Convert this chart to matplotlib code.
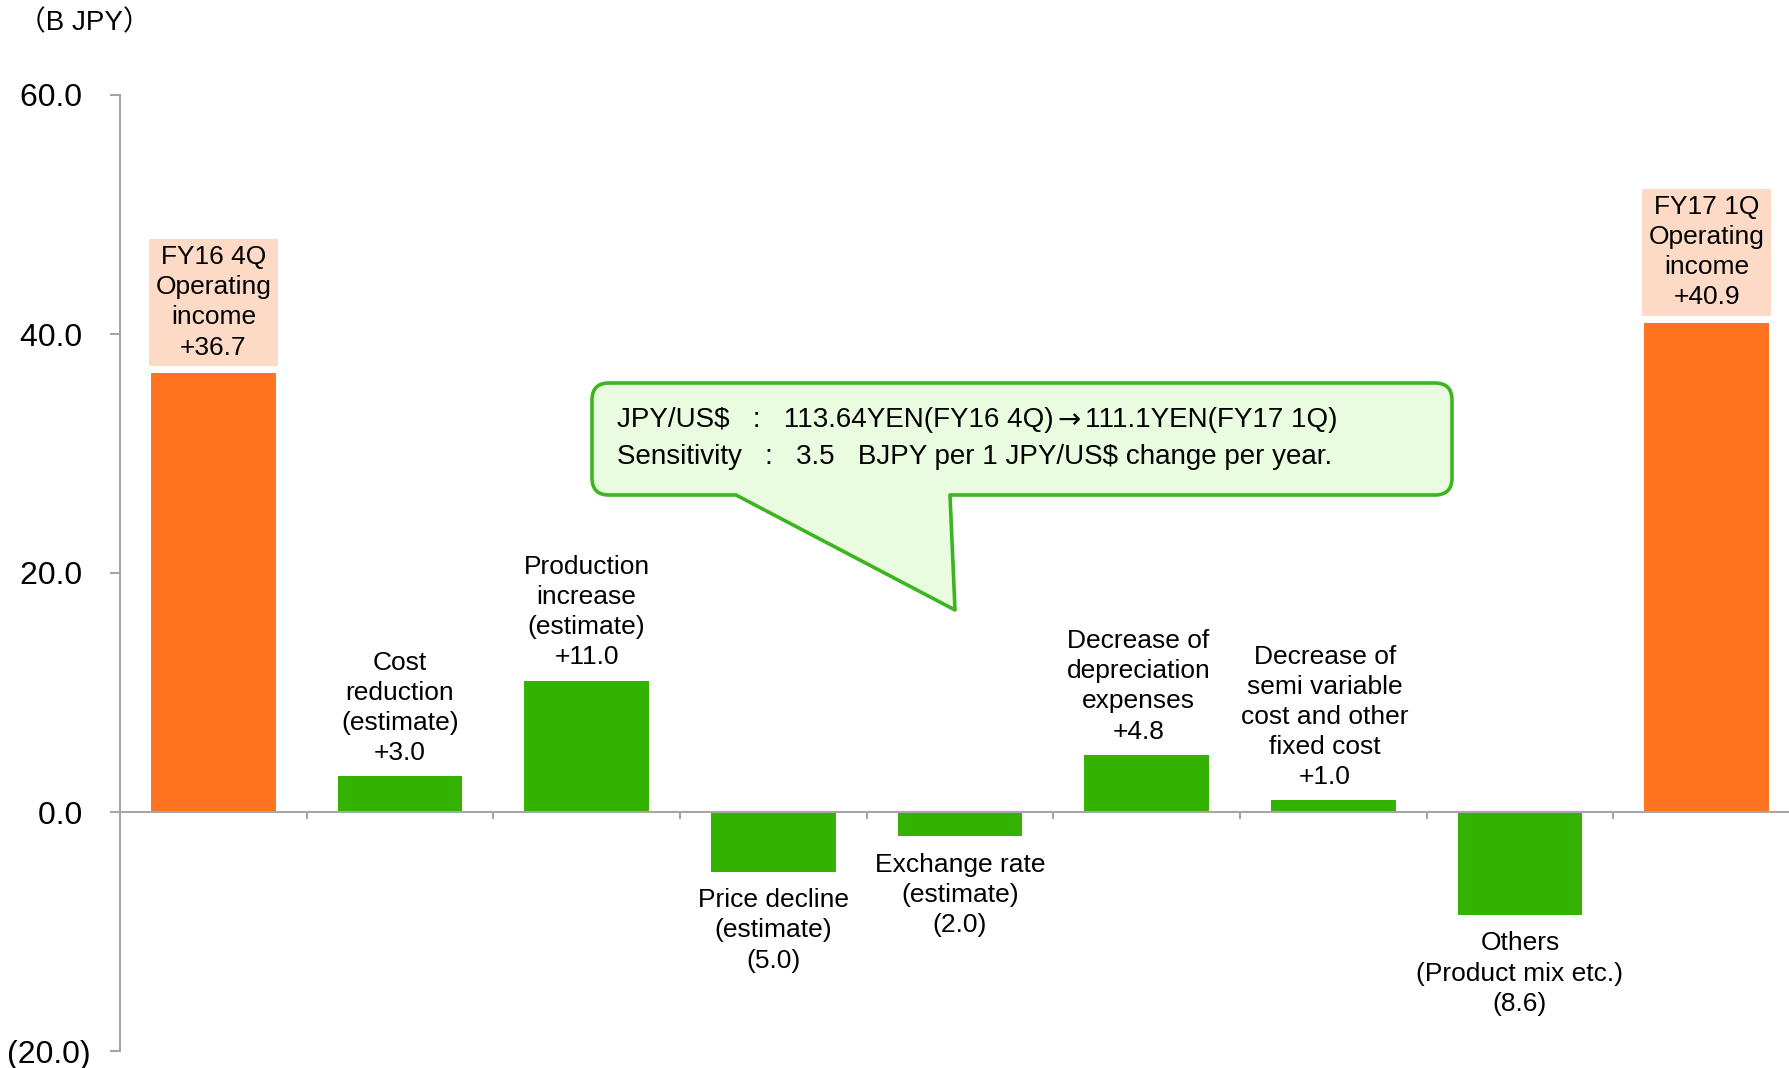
import matplotlib.pyplot as plt
from matplotlib.path import Path
from matplotlib.patches import PathPatch
from matplotlib.ticker import FuncFormatter

plt.rcParams['font.family'] = ['Liberation Sans', 'Noto Sans CJK JP', 'DejaVu Sans']

# Operating income bridge, FY16 4Q -> FY17 1Q (B JPY)
labels = [
    "FY16 4Q\nOperating\nincome",
    "Cost\nreduction\n(estimate)",
    "Production\nincrease\n(estimate)",
    "Price decline\n(estimate)",
    "Exchange rate\n(estimate)",
    "Decrease of\ndepreciation\nexpenses",
    "Decrease of\nsemi variable\ncost and other\nfixed cost",
    "Others\n(Product mix etc.)",
    "FY17 1Q\nOperating\nincome",
]
values = [36.7, 3.0, 11.0, -5.0, -2.0, 4.8, 1.0, -8.6, 40.9]
is_total = [True, False, False, False, False, False, False, False, True]
yticks = [-20, 0, 20, 40, 60]

ORANGE = '#FF7321'
GREEN = '#33B200'
PEACH = '#FDDAC6'
AXIS_GRAY = '#A6A6A6'
FS = 19
LS = 1.32
# small horizontal nudges (points) for a couple of the wider labels
label_dx = [0, 0, 0, 0, 0, -6, -6, 0, 0]

W, H = 1789, 1068
fig = plt.figure(figsize=(W / 100, H / 100), dpi=100)
ax = fig.add_axes([120 / W, 1 - 1051 / H, 1680 / W, (1051 - 95) / H])

x = list(range(len(values)))
colors = [ORANGE if t else GREEN for t in is_total]
ax.bar(x, values, width=0.667, color=colors, zorder=2)

ax.set_xlim(-0.5, len(values) - 0.5)
ax.set_ylim(-20, 60)

# value labels
for xi, v, lab, tot, dx in zip(x, values, labels, is_total, label_dx):
    num = f"+{v:.1f}" if v >= 0 else f"({abs(v):.1f})"
    text = f"{lab}\n{num}"
    if tot:
        ax.annotate(text, (xi, v), xytext=(dx, 10), textcoords='offset points',
                    ha='center', va='bottom', fontsize=FS, linespacing=LS,
                    bbox=dict(boxstyle='square,pad=0.25', fc=PEACH, ec='none'))
    elif v >= 0:
        ax.annotate(text, (xi, v), xytext=(dx, 8), textcoords='offset points',
                    ha='center', va='bottom', fontsize=FS, linespacing=LS)
    else:
        ax.annotate(text, (xi, v), xytext=(dx, -12), textcoords='offset points',
                    ha='center', va='top', fontsize=FS, linespacing=LS)

# axes styling
for side in ['top', 'right']:
    ax.spines[side].set_visible(False)
ax.spines['bottom'].set_position(('data', 0))
for side in ['left', 'bottom']:
    ax.spines[side].set_color(AXIS_GRAY)
    ax.spines[side].set_linewidth(1.5)
ax.set_yticks(yticks)
ax.yaxis.set_major_formatter(FuncFormatter(
    lambda v, p: f"{v:.1f} " if v >= 0 else f"({abs(v):.1f})"))
ax.tick_params(axis='y', length=7, width=1.5, color=AXIS_GRAY, pad=14, labelsize=23)
ax.set_xticks([i + 0.5 for i in range(len(values) - 1)])
ax.set_xticklabels([])
ax.tick_params(axis='x', direction='out', length=5, width=1.5, color=AXIS_GRAY)

fig.text(18 / W, 1 - 23 / H, "（B JPY）", fontsize=20, va='center', ha='left')


# speech-bubble callout with the exchange-rate note
def fp(px, py):
    return (px / W, 1 - py / H)


L, R, T, B, r = 592, 1452, 383, 495, 17
x1, x2, tip = 736, 950, (955, 610)
pts = [
    (L + r, T), (R - r, T), (R, T), (R, T + r), (R, B - r), (R, B), (R - r, B),
    (x2, B), tip, (x1, B), (L + r, B), (L, B), (L, B - r), (L, T + r), (L, T),
    (L + r, T),
]
codes = [Path.MOVETO, Path.LINETO, Path.CURVE3, Path.CURVE3, Path.LINETO,
         Path.CURVE3, Path.CURVE3, Path.LINETO, Path.LINETO, Path.LINETO,
         Path.LINETO, Path.CURVE3, Path.CURVE3, Path.LINETO, Path.CURVE3,
         Path.CURVE3]
bubble = PathPatch(Path([fp(*p) for p in pts], codes), transform=fig.transFigure,
                   fc='#EAFCE0', ec='#3CB521', lw=2.6, joinstyle='round')
fig.add_artist(bubble)

# first line is drawn in pieces so the arrow can come from DejaVu Sans
renderer = fig.canvas.get_renderer()
line1 = [("JPY/US$   :   113.64YEN(FY16 4Q)", None, 0),
         ("→", 'DejaVu Sans', 4),
         ("111.1YEN(FY17 1Q)", None, 4)]
xpos = 617
for s, fam, gap in line1:
    kw = {'family': fam} if fam else {}
    t = fig.text((xpos + gap) / W, 1 - 420 / H, s, fontsize=20, va='center',
                 ha='left', **kw)
    xpos = t.get_window_extent(renderer).x1
fig.text(617 / W, 1 - 457 / H,
         "Sensitivity   :   3.5   BJPY per 1 JPY/US$ change per year.",
         fontsize=20, va='center', ha='left')

fig.savefig('out.png', dpi=100)
